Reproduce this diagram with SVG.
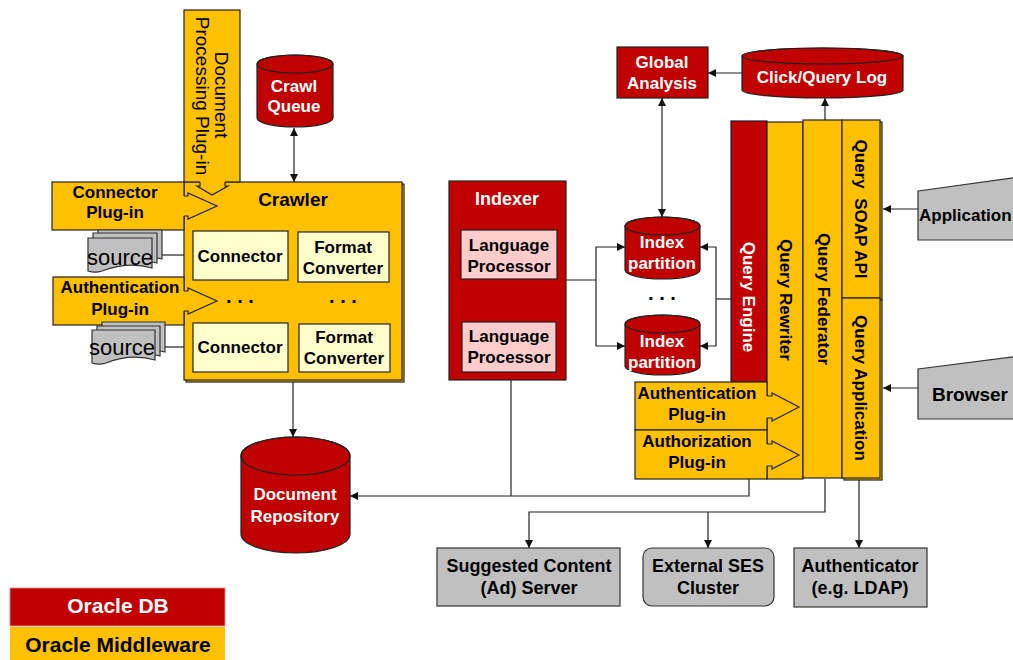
<svg xmlns="http://www.w3.org/2000/svg" width="1013" height="660" viewBox="0 0 1013 660">
<defs>
<marker id="ah" viewBox="0 0 10 10" refX="10" refY="5" markerWidth="9" markerHeight="8" orient="auto-start-reverse" markerUnits="userSpaceOnUse"><path d="M0,0 L10,5 L0,10 z" fill="#111"/></marker>
<style>
text{font-family:"Liberation Sans",Arial,sans-serif;font-weight:bold;font-size:17px;text-anchor:middle;fill:#000}
.w{fill:#fff}
.red{fill:#C00000;stroke:#222;stroke-width:1.2}
.org{fill:#FFC000;stroke:#222;stroke-width:1.2}
.ly{fill:#FFFFCC;stroke:#222;stroke-width:1.2}
.pk{fill:#FFCCCC;stroke:#222;stroke-width:1.2}
.gr{fill:#C0C0C0;stroke:#333;stroke-width:1.2}
.head{fill:#FFC000;stroke:none}
.hl{fill:none;stroke:#222;stroke-width:1.2}
.cl{fill:none;stroke:#222;stroke-width:1.2}
.ar{marker-end:url(#ah)}
.ar2{marker-start:url(#ah);marker-end:url(#ah)}
.reg{font-weight:normal}
.src{font-weight:normal;font-size:22px}
.dots{font-size:20px}
</style>
</defs>
<rect width="1013" height="660" fill="#fff"/>

<g id="connectors">
<path class="cl ar2" d="M294,128 V182"/>
<path class="cl ar" d="M293,380 V437"/>
<path class="cl" d="M160,255 H184"/>
<path class="cl" d="M163,347 H184"/>
<path class="cl" d="M557,280 H596"/>
<path class="cl ar2" d="M625,247 H596 V346 H625"/>
<path class="cl ar2" d="M700,247 H716 V346 H700"/>
<path class="cl" d="M716,299 H731"/>
<path class="cl ar2" d="M662,98 V217"/>
<path class="cl ar" d="M742,73 H708"/>
<path class="cl ar" d="M825,120 V98"/>
<path class="cl ar" d="M918,209 H883"/>
<path class="cl ar" d="M918,388 H883"/>
<path class="cl" d="M511,380 V496"/>
<path class="cl ar" d="M749,479 V496 H350"/>
<path class="cl ar" d="M825,479 V512 H529 V548"/>
<path class="cl ar" d="M708,512 V548"/>
<path class="cl ar" d="M859,479 V548"/>
</g>

<g id="crawler">
<rect class="org" x="186" y="184" width="218" height="198"/>
<rect class="org" x="184" y="182" width="218" height="198"/>
<text x="293" y="206" style="font-size:19px">Crawler</text>
</g>
<g id="connector1"><rect class="ly" x="193" y="231" width="95" height="49"/><text x="240" y="262">Connector</text></g>
<g id="format1"><rect class="ly" x="298" y="232" width="91" height="50"/><text x="343" y="253">Format</text><text x="343" y="274">Converter</text></g>
<g id="connector2"><rect class="ly" x="193" y="323" width="95" height="49"/><text x="240" y="353">Connector</text></g>
<g id="format2"><rect class="ly" x="299" y="324" width="91" height="48"/><text x="344" y="343">Format</text><text x="344" y="364">Converter</text></g>
<g id="crawler-dots"><text class="dots" x="240" y="303">. . .</text><text class="dots" x="343" y="303">. . .</text></g>

<g id="doc-processing-plugin">
<rect class="org" x="184" y="10" width="56" height="172"/>
<path class="head" d="M200,178 V186 H197 L212,195 L228,186 H225 V178 Z"/>
<path class="hl" d="M200,182 V186 H197 L212,195 L228,186 H225 V182"/>
<text class="reg" transform="translate(215,95) rotate(90)" style="font-size:19px">Document</text>
<text class="reg" transform="translate(196,96) rotate(90)" style="font-size:19px">Processing Plug-in</text>
</g>

<g id="connector-plugin">
<rect class="org" x="52" y="182" width="132" height="48"/>
<path class="head" d="M182,196 H188 V193 L217,206 L188,219 V216 H182 Z"/>
<path class="hl" d="M184,196 H188 V193 L217,206 L188,219 V216 H184"/>
<text x="115" y="198">Connector</text>
<text x="115" y="218">Plug-in</text>
</g>

<g id="source1">
<path class="gr" d="M98,230 H162 V259 C145,254 128,256 112,262 C106,264 101,263 98,262 Z"/>
<path class="gr" d="M93,233 H157 V263 C140,258 123,260 107,266 C101,268 96,267 93,266 Z"/>
<path class="gr" d="M88,238 H152 V268 C135,263 118,265 102,271 C96,273 91,272 88,271 Z"/>
<text class="src" x="120" y="265">source</text>
</g>

<g id="crawler-auth-plugin">
<rect class="org" x="53" y="277" width="131" height="48"/>
<path class="head" d="M182,291 H188 V288 L217,301 L188,314 V311 H182 Z"/>
<path class="hl" d="M184,291 H188 V288 L217,301 L188,314 V311 H184"/>
<text x="120" y="293">Authentication</text>
<text x="120" y="315">Plug-in</text>
</g>

<g id="source2">
<path class="gr" d="M102,322 H165 V352 C148,347 131,349 116,355 C110,357 105,356 102,355 Z"/>
<path class="gr" d="M97,326 H160 V356 C143,351 126,353 111,359 C105,361 100,360 97,359 Z"/>
<path class="gr" d="M92,330 H155 V360 C138,355 121,357 106,363 C100,365 95,364 92,363 Z"/>
<text class="src" x="122" y="355">source</text>
</g>

<g id="crawl-queue">
<path class="red" d="M257,64 A38,9 0 0 1 333,64 V118 A38,9 0 0 1 257,118 Z"/>
<ellipse cx="295" cy="64" rx="38" ry="9" class="hl"/>
<text class="w" x="294" y="92">Crawl</text>
<text class="w" x="294" y="112">Queue</text>
</g>

<g id="document-repository">
<path class="red" d="M241,456 A54.5,19 0 0 1 350,456 V534 A54.5,19 0 0 1 241,534 Z"/>
<ellipse cx="295.5" cy="456" rx="54.5" ry="19" class="hl"/>
<text class="w" x="295" y="500">Document</text>
<text class="w" x="295" y="522">Repository</text>
</g>

<g id="indexer">
<rect class="red" x="449" y="181" width="117" height="199"/>
<text class="w" x="507" y="205" style="font-size:18px">Indexer</text>
</g>
<g id="language-processor1"><rect class="pk" x="461" y="230" width="96" height="49"/><text x="509" y="251">Language</text><text x="509" y="272">Processor</text></g>
<g id="language-processor2"><rect class="pk" x="462" y="322" width="94" height="50"/><text x="509" y="342">Language</text><text x="509" y="363">Processor</text></g>

<g id="index-partition1">
<path class="red" d="M625,226 A37.5,9 0 0 1 700,226 V270 A37.5,9 0 0 1 625,270 Z"/>
<ellipse cx="662.5" cy="226" rx="37.5" ry="9" class="hl"/>
<text class="w" x="662" y="248">Index</text>
<text class="w" x="662" y="269">partition</text>
</g>
<g id="index-dots"><text class="dots" x="662" y="300">. . .</text></g>
<g id="index-partition2">
<path class="red" d="M625,324 A37.5,9 0 0 1 700,324 V366 A37.5,9 0 0 1 625,366 Z"/>
<ellipse cx="662.5" cy="324" rx="37.5" ry="9" class="hl"/>
<text class="w" x="662" y="347">Index</text>
<text class="w" x="662" y="368">partition</text>
</g>

<g id="global-analysis">
<rect class="red" x="617" y="47" width="91" height="51"/>
<text class="w" x="662" y="68">Global</text>
<text class="w" x="662" y="89">Analysis</text>
</g>

<g id="click-query-log">
<path class="red" d="M742,56 A80.5,8 0 0 1 903,56 V90 A80.5,8 0 0 1 742,90 Z"/>
<ellipse cx="822.5" cy="56" rx="80.5" ry="8" class="hl"/>
<text class="w" x="822" y="83">Click/Query Log</text>
</g>

<g id="query-engine">
<rect class="red" x="731" y="121" width="36" height="261"/>
<text class="w" transform="translate(743,297) rotate(90)">Query Engine</text>
</g>
<g id="query-rewriter">
<rect class="org" x="767" y="122" width="36" height="357"/>
<text transform="translate(780,300) rotate(90)">Query Rewriter</text>
</g>
<g id="query-federator">
<rect class="org" x="803" y="120" width="39" height="358"/>
<text transform="translate(818,299) rotate(90)">Query Federator</text>
</g>
<g id="query-soap-api">
<rect class="org" x="844" y="122" width="38" height="178"/>
<rect class="org" x="842" y="120" width="38" height="178"/>
<text transform="translate(855,209) rotate(90)" xml:space="preserve">Query  SOAP API</text>
</g>
<g id="query-application">
<rect class="org" x="844" y="300" width="38" height="180"/>
<rect class="org" x="842" y="298" width="38" height="180"/>
<text transform="translate(855,388) rotate(90)">Query Application</text>
</g>

<g id="query-auth-plugin">
<rect class="org" x="635" y="382" width="132" height="48"/>
<path class="head" d="M765,396 H772 V393 L799,407 L772,421 V418 H765 Z"/>
<path class="hl" d="M767,396 H772 V393 L799,407 L772,421 V418 H767"/>
<text x="697" y="399">Authentication</text>
<text x="697" y="420">Plug-in</text>
</g>
<g id="authorization-plugin">
<rect class="org" x="635" y="430" width="132" height="49"/>
<path class="head" d="M765,444 H772 V441 L799,455 L772,469 V466 H765 Z"/>
<path class="hl" d="M767,444 H772 V441 L799,455 L772,469 V466 H767"/>
<text x="697" y="447">Authorization</text>
<text x="697" y="468">Plug-in</text>
</g>

<g id="application">
<path class="gr" d="M918,191 L1020,177 V240 H918 Z"/>
<text x="919" y="221" style="font-size:17px;text-anchor:start">Application</text>
</g>
<g id="browser">
<path class="gr" d="M918,369 L1020,356 V419 H918 Z"/>
<text x="970" y="401" style="font-size:19px">Browser</text>
</g>

<g id="suggested-content">
<rect class="gr" x="437" y="548" width="183" height="58"/>
<text x="529" y="572" style="font-size:18px">Suggested Content</text>
<text x="529" y="594" style="font-size:18px">(Ad) Server</text>
</g>
<g id="external-ses">
<rect class="gr" x="643" y="548" width="131" height="58" rx="9"/>
<text x="708" y="572" style="font-size:18px">External SES</text>
<text x="708" y="594" style="font-size:18px">Cluster</text>
</g>
<g id="authenticator">
<rect class="gr" x="794" y="548" width="133" height="59"/>
<text x="860" y="572" style="font-size:18px">Authenticator</text>
<text x="860" y="594" style="font-size:18px">(e.g. LDAP)</text>
</g>

<g id="legend">
<rect x="10" y="588" width="215" height="38" fill="#C00000" stroke="#e88" stroke-width="0.8"/>
<text class="w" x="118" y="613" style="font-size:21px">Oracle DB</text>
<rect x="10" y="627" width="215" height="35" fill="#FFC000"/>
<text x="118" y="652" style="font-size:21px">Oracle Middleware</text>
</g>
</svg>
